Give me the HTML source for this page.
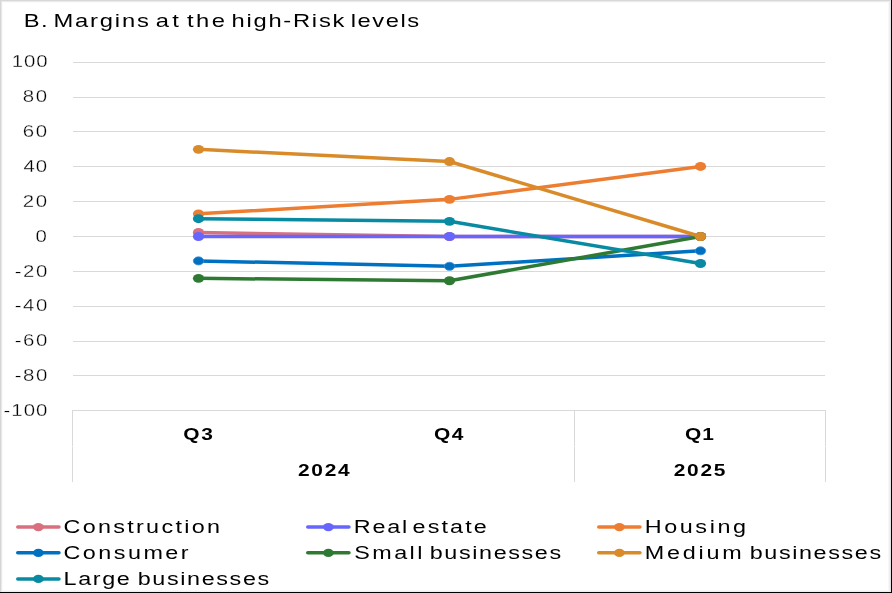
<!DOCTYPE html><html><head><meta charset="utf-8"><style>html,body{margin:0;padding:0;background:#fff;width:892px;height:593px;overflow:hidden}svg{display:block;will-change:transform}text{font-family:"Liberation Sans",sans-serif;fill:#000}</style></head><body>
<svg width="892" height="593" viewBox="0 0 892 593">
<rect x="0" y="0" width="892" height="593" fill="#fff"/>
<rect x="0" y="0" width="891" height="1" fill="#d8d8d8"/>
<rect x="1" y="1" width="889" height="1" fill="#eaeaea"/>
<rect x="2" y="2" width="887" height="1" fill="#fcfcfc"/>
<rect x="0" y="0" width="1" height="592" fill="#d6d6d6"/>
<rect x="1" y="1" width="1" height="591" fill="#e8e8e8"/>
<rect x="2" y="2" width="1" height="589" fill="#fbfbfb"/>
<rect x="888" y="2" width="1" height="589" fill="#f8f8f8"/>
<rect x="889" y="1" width="1" height="591" fill="#eeeeee"/>
<rect x="890" y="0" width="1" height="592" fill="#e4e4e4"/>
<rect x="2" y="590" width="887" height="1" fill="#f8f8f8"/>
<rect x="1" y="591" width="889" height="1" fill="#eeeeee"/>
<rect x="891" y="0" width="1" height="593" fill="#000"/>
<rect x="0" y="592" width="892" height="1" fill="#000"/>
<text transform="translate(23.70,26.90) scale(1.25,1)" x="0" y="0" font-size="19" textLength="19.16" lengthAdjust="spacing">B.</text>
<text transform="translate(53.40,26.90) scale(1.25,1)" x="0" y="0" font-size="19" textLength="76.36" lengthAdjust="spacing">Margins</text>
<text transform="translate(155.80,26.90) scale(1.25,1)" x="0" y="0" font-size="19" textLength="18.41" lengthAdjust="spacing">at</text>
<text transform="translate(187.00,26.90) scale(1.25,1)" x="0" y="0" font-size="19" textLength="30.41" lengthAdjust="spacing">the</text>
<text transform="translate(231.50,26.90) scale(1.25,1)" x="0" y="0" font-size="19" textLength="90.30" lengthAdjust="spacing">high-Risk</text>
<text transform="translate(350.70,26.90) scale(1.25,1)" x="0" y="0" font-size="19" textLength="54.80" lengthAdjust="spacing">levels</text>
<text transform="translate(11.80,67.45) scale(1.2,1)" x="0" y="0" font-size="17" stroke="#fff" stroke-width="0.3" textLength="29.77" lengthAdjust="spacing">100</text>
<text transform="translate(22.70,102.31) scale(1.2,1)" x="0" y="0" font-size="17" stroke="#fff" stroke-width="0.3" textLength="20.40" lengthAdjust="spacing">80</text>
<text transform="translate(22.70,137.17) scale(1.2,1)" x="0" y="0" font-size="17" stroke="#fff" stroke-width="0.3" textLength="20.40" lengthAdjust="spacing">60</text>
<text transform="translate(23.50,172.03) scale(1.2,1)" x="0" y="0" font-size="17" stroke="#fff" stroke-width="0.3" textLength="19.73" lengthAdjust="spacing">40</text>
<text transform="translate(22.80,206.89) scale(1.2,1)" x="0" y="0" font-size="17" stroke="#fff" stroke-width="0.3" textLength="20.32" lengthAdjust="spacing">20</text>
<text transform="translate(35.40,241.75) scale(1.2,1)" x="0" y="0" font-size="17" stroke="#fff" stroke-width="0.3" textLength="9.45" lengthAdjust="spacing">0</text>
<text transform="translate(14.70,276.61) scale(1.2,1)" x="0" y="0" font-size="17" stroke="#fff" stroke-width="0.3" textLength="27.14" lengthAdjust="spacing">-20</text>
<text transform="translate(14.70,311.47) scale(1.2,1)" x="0" y="0" font-size="17" stroke="#fff" stroke-width="0.3" textLength="27.14" lengthAdjust="spacing">-40</text>
<text transform="translate(14.70,346.33) scale(1.2,1)" x="0" y="0" font-size="17" stroke="#fff" stroke-width="0.3" textLength="27.14" lengthAdjust="spacing">-60</text>
<text transform="translate(14.70,381.19) scale(1.2,1)" x="0" y="0" font-size="17" stroke="#fff" stroke-width="0.3" textLength="27.14" lengthAdjust="spacing">-80</text>
<text transform="translate(3.60,416.05) scale(1.2,1)" x="0" y="0" font-size="17" stroke="#fff" stroke-width="0.3" textLength="36.51" lengthAdjust="spacing">-100</text>
<text transform="translate(183.20,439.60) scale(1.23,1)" x="0" y="0" font-size="17" font-weight="bold" textLength="24.04" lengthAdjust="spacing">Q3</text>
<text transform="translate(434.10,439.60) scale(1.23,1)" x="0" y="0" font-size="17" font-weight="bold" textLength="23.76" lengthAdjust="spacing">Q4</text>
<text transform="translate(684.90,439.60) scale(1.23,1)" x="0" y="0" font-size="17" font-weight="bold" textLength="23.64" lengthAdjust="spacing">Q1</text>
<text transform="translate(298.00,476.00) scale(1.23,1)" x="0" y="0" font-size="17" font-weight="bold" textLength="42.04" lengthAdjust="spacing">2024</text>
<text transform="translate(673.80,476.00) scale(1.23,1)" x="0" y="0" font-size="17" font-weight="bold" textLength="41.96" lengthAdjust="spacing">2025</text>
<text transform="translate(63.50,532.90) scale(1.25,1)" x="0" y="0" font-size="18.7" textLength="125.18" lengthAdjust="spacing">Construction</text>
<text transform="translate(353.80,532.90) scale(1.25,1)" x="0" y="0" font-size="18.7" textLength="42.68" lengthAdjust="spacing">Real</text>
<text transform="translate(412.50,532.90) scale(1.25,1)" x="0" y="0" font-size="18.7" textLength="59.48" lengthAdjust="spacing">estate</text>
<text transform="translate(644.70,532.90) scale(1.25,1)" x="0" y="0" font-size="18.7" textLength="81.06" lengthAdjust="spacing">Housing</text>
<text transform="translate(63.50,558.70) scale(1.25,1)" x="0" y="0" font-size="18.7" textLength="100.06" lengthAdjust="spacing">Consumer</text>
<text transform="translate(354.20,558.70) scale(1.25,1)" x="0" y="0" font-size="18.7" textLength="54.58" lengthAdjust="spacing">Small</text>
<text transform="translate(429.70,558.70) scale(1.25,1)" x="0" y="0" font-size="18.7" textLength="105.19" lengthAdjust="spacing">businesses</text>
<text transform="translate(644.70,558.70) scale(1.25,1)" x="0" y="0" font-size="18.7" textLength="77.65" lengthAdjust="spacing">Medium</text>
<text transform="translate(749.70,558.70) scale(1.25,1)" x="0" y="0" font-size="18.7" textLength="105.11" lengthAdjust="spacing">businesses</text>
<text transform="translate(63.50,584.70) scale(1.25,1)" x="0" y="0" font-size="18.7" textLength="53.10" lengthAdjust="spacing">Large</text>
<text transform="translate(137.75,584.70) scale(1.25,1)" x="0" y="0" font-size="18.7" textLength="105.15" lengthAdjust="spacing">businesses</text>
<rect x="73" y="62" width="752" height="1" fill="#d9d9d9"/>
<rect x="73" y="97" width="752" height="1" fill="#d9d9d9"/>
<rect x="73" y="131" width="752" height="1" fill="#d9d9d9"/>
<rect x="73" y="166" width="752" height="1" fill="#d9d9d9"/>
<rect x="73" y="201" width="752" height="1" fill="#d9d9d9"/>
<rect x="73" y="236" width="752" height="1" fill="#d9d9d9"/>
<rect x="73" y="271" width="752" height="1" fill="#d9d9d9"/>
<rect x="73" y="306" width="752" height="1" fill="#d9d9d9"/>
<rect x="73" y="341" width="752" height="1" fill="#d9d9d9"/>
<rect x="73" y="375" width="752" height="1" fill="#d9d9d9"/>
<rect x="73" y="410" width="753" height="1" fill="#d9d9d9"/>
<rect x="72" y="410" width="1" height="72" fill="#d9d9d9"/>
<rect x="72" y="446" width="1" height="1" fill="#ececec"/>
<rect x="574" y="410" width="1" height="72" fill="#d9d9d9"/>
<rect x="574" y="446" width="1" height="1" fill="#ececec"/>
<rect x="825" y="410" width="1" height="72" fill="#d9d9d9"/>
<rect x="825" y="446" width="1" height="1" fill="#ececec"/>
<polyline points="198.50,232.49 449.50,236.50 700.50,236.50" fill="none" stroke="#d9707f" stroke-width="3.5" stroke-linejoin="round" stroke-linecap="round"/>
<ellipse cx="198.50" cy="232.49" rx="5.6" ry="4.45" fill="#d9707f"/>
<ellipse cx="449.50" cy="236.50" rx="5.6" ry="4.45" fill="#d9707f"/>
<ellipse cx="700.50" cy="236.50" rx="5.6" ry="4.45" fill="#d9707f"/>
<polyline points="198.50,236.50 449.50,236.50 700.50,236.50" fill="none" stroke="#6666ff" stroke-width="3.5" stroke-linejoin="round" stroke-linecap="round"/>
<ellipse cx="198.50" cy="236.50" rx="5.6" ry="4.45" fill="#6666ff"/>
<ellipse cx="449.50" cy="236.50" rx="5.6" ry="4.45" fill="#6666ff"/>
<ellipse cx="700.50" cy="236.50" rx="5.6" ry="4.45" fill="#6666ff"/>
<polyline points="198.50,213.84 449.50,199.37 700.50,166.43" fill="none" stroke="#ed7d31" stroke-width="3.5" stroke-linejoin="round" stroke-linecap="round"/>
<ellipse cx="198.50" cy="213.84" rx="5.6" ry="4.45" fill="#ed7d31"/>
<ellipse cx="449.50" cy="199.37" rx="5.6" ry="4.45" fill="#ed7d31"/>
<ellipse cx="700.50" cy="166.43" rx="5.6" ry="4.45" fill="#ed7d31"/>
<polyline points="198.50,260.90 449.50,266.31 700.50,250.79" fill="none" stroke="#0070c0" stroke-width="3.5" stroke-linejoin="round" stroke-linecap="round"/>
<ellipse cx="198.50" cy="260.90" rx="5.2" ry="4.05" fill="#0070c0" stroke="#3d8ed3" stroke-width="0.8"/>
<ellipse cx="449.50" cy="266.31" rx="5.2" ry="4.05" fill="#0070c0" stroke="#3d8ed3" stroke-width="0.8"/>
<ellipse cx="700.50" cy="250.79" rx="5.2" ry="4.05" fill="#0070c0" stroke="#3d8ed3" stroke-width="0.8"/>
<polyline points="198.50,278.33 449.50,280.77 700.50,236.50" fill="none" stroke="#2f7a33" stroke-width="3.5" stroke-linejoin="round" stroke-linecap="round"/>
<ellipse cx="198.50" cy="278.33" rx="5.6" ry="4.45" fill="#2f7a33"/>
<ellipse cx="449.50" cy="280.77" rx="5.6" ry="4.45" fill="#2f7a33"/>
<ellipse cx="700.50" cy="236.50" rx="5.6" ry="4.45" fill="#2f7a33"/>
<polyline points="198.50,149.35 449.50,161.55 700.50,236.50" fill="none" stroke="#d98b2a" stroke-width="3.5" stroke-linejoin="round" stroke-linecap="round"/>
<ellipse cx="198.50" cy="149.35" rx="5.6" ry="4.45" fill="#d98b2a"/>
<ellipse cx="449.50" cy="161.55" rx="5.6" ry="4.45" fill="#d98b2a"/>
<ellipse cx="700.50" cy="236.50" rx="5.6" ry="4.45" fill="#d98b2a"/>
<polyline points="198.50,218.72 449.50,221.34 700.50,263.52" fill="none" stroke="#088ba2" stroke-width="3.5" stroke-linejoin="round" stroke-linecap="round"/>
<ellipse cx="198.50" cy="218.72" rx="5.6" ry="4.45" fill="#088ba2"/>
<ellipse cx="449.50" cy="221.34" rx="5.6" ry="4.45" fill="#088ba2"/>
<ellipse cx="700.50" cy="263.52" rx="5.6" ry="4.45" fill="#088ba2"/>
<line x1="17.75" y1="527.1" x2="58.95" y2="527.1" stroke="#d9707f" stroke-width="3.5" stroke-linecap="round"/>
<ellipse cx="38.4" cy="527.1" rx="5.4" ry="4.1" fill="#d9707f"/>
<line x1="307.75" y1="527.1" x2="348.95" y2="527.1" stroke="#6666ff" stroke-width="3.5" stroke-linecap="round"/>
<ellipse cx="328.4" cy="527.1" rx="5.4" ry="4.1" fill="#6666ff"/>
<line x1="598.75" y1="527.1" x2="639.95" y2="527.1" stroke="#ed7d31" stroke-width="3.5" stroke-linecap="round"/>
<ellipse cx="619.4" cy="527.1" rx="5.4" ry="4.1" fill="#ed7d31"/>
<line x1="17.75" y1="552.8" x2="58.95" y2="552.8" stroke="#0070c0" stroke-width="3.5" stroke-linecap="round"/>
<ellipse cx="38.4" cy="552.8" rx="5.4" ry="4.1" fill="#0070c0"/>
<line x1="307.75" y1="552.8" x2="348.95" y2="552.8" stroke="#2f7a33" stroke-width="3.5" stroke-linecap="round"/>
<ellipse cx="328.4" cy="552.8" rx="5.4" ry="4.1" fill="#2f7a33"/>
<line x1="598.75" y1="552.8" x2="639.95" y2="552.8" stroke="#d98b2a" stroke-width="3.5" stroke-linecap="round"/>
<ellipse cx="619.4" cy="552.8" rx="5.4" ry="4.1" fill="#d98b2a"/>
<line x1="17.75" y1="578.9" x2="58.95" y2="578.9" stroke="#088ba2" stroke-width="3.5" stroke-linecap="round"/>
<ellipse cx="38.4" cy="578.9" rx="5.4" ry="4.1" fill="#088ba2"/>
</svg></body></html>
